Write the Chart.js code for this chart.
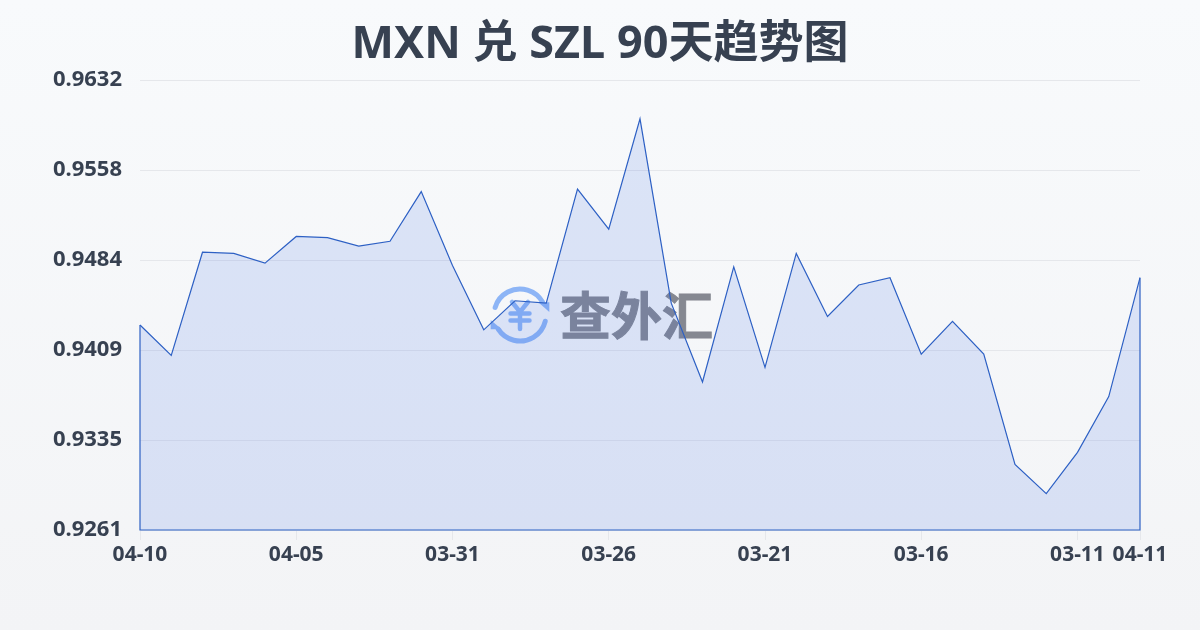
<!DOCTYPE html>
<html>
<head>
<meta charset="utf-8">
<script src="https://cdn.jsdelivr.net/npm/chart.js@4/dist/chart.umd.min.js"></script>
<style>
html, body { margin: 0; padding: 0; width: 1200px; height: 630px; overflow: hidden; }
body { background: linear-gradient(180deg, #f8fafc 0%, #f3f4f6 100%); }
canvas { display: block; }
</style>
</head>
<body>
<canvas id="rateChart" width="1200" height="630"></canvas>
<script>
var titleText = 'MXN 兑 SZL 90天趋势图';
var dates = ['04-10', '04-09', '04-08', '04-07', '04-06', '04-05', '04-04', '04-03', '04-02', '04-01', '03-31',
    '03-30', '03-29', '03-28', '03-27', '03-26', '03-25', '03-24', '03-23', '03-22', '03-21',
    '03-20', '03-19', '03-18', '03-17', '03-16', '03-15', '03-14', '03-13', '03-12', '03-11', '03-10', '04-11'];
var rates = [0.9430, 0.9405, 0.9490, 0.9489, 0.9481, 0.9503, 0.9502, 0.9495, 0.9499, 0.9540, 0.9479,
    0.9426, 0.9450, 0.9448, 0.9542, 0.9509, 0.9600, 0.9448, 0.9383, 0.9478, 0.9395,
    0.9489, 0.9437, 0.9463, 0.9469, 0.9406, 0.9433, 0.9406, 0.9315, 0.9291, 0.9325, 0.9371, 0.9469];
var yTicks = [0.9632, 0.95578, 0.94836, 0.94094, 0.93352, 0.9261];
var xTickIndexes = [0, 5, 10, 15, 20, 25, 30, 32];

var textColor = '#374151';
var lineColor = '#2d60c4';

// closes the area outline down both edges and along the bottom
var areaEdge = {
    id: 'areaEdge',
    afterDatasetsDraw: function (chart) {
        var c = chart.ctx, a = chart.chartArea, pts = chart.getDatasetMeta(0).data;
        c.save();
        c.strokeStyle = lineColor;
        c.lineWidth = 1.2;
        c.beginPath();
        c.moveTo(pts[0].x, pts[0].y);
        c.lineTo(a.left, a.bottom);
        c.lineTo(a.right, a.bottom);
        c.lineTo(pts[pts.length - 1].x, pts[pts.length - 1].y);
        c.stroke();
        c.restore();
    }
};

// logo and site name behind the line
var watermark = {
    id: 'watermark',
    beforeDatasetsDraw: function (chart) {
        var c = chart.ctx, cx = 520, cy = 315, r = 26;
        var logo = '#8db5f6';
        c.save();
        c.strokeStyle = logo;
        c.fillStyle = logo;
        c.lineWidth = 5;
        c.lineCap = 'round';
        c.beginPath();
        c.arc(cx, cy, r, 197 * Math.PI / 180, 330 * Math.PI / 180);
        c.stroke();
        c.beginPath();
        c.moveTo(538.3, 302.3);
        c.lineTo(549.3, 302.3);
        c.lineTo(549.3, 312);
        c.closePath();
        c.fill();
        c.beginPath();
        c.arc(cx, cy, r, 14 * Math.PI / 180, 147 * Math.PI / 180);
        c.stroke();
        c.beginPath();
        c.moveTo(490.7, 329.3);
        c.lineTo(501.7, 329.3);
        c.lineTo(490.7, 320);
        c.closePath();
        c.fill();
        // yen sign
        c.lineWidth = 4.5;
        c.beginPath();
        c.moveTo(512, 302);
        c.lineTo(520, 312);
        c.lineTo(528, 302);
        c.moveTo(520, 312);
        c.lineTo(520, 329);
        c.moveTo(510.5, 313.5);
        c.lineTo(529.5, 313.5);
        c.moveTo(510.5, 320.5);
        c.lineTo(529.5, 320.5);
        c.stroke();
        c.fillStyle = '#858891';
        c.strokeStyle = '#858891';
        c.lineWidth = 1;
        c.font = 'bold 51px "Noto Sans CJK SC"';
        c.textAlign = 'left';
        c.textBaseline = 'middle';
        c.fillText('查外汇', 560, 316);
        c.strokeText('查外汇', 560, 316);
        c.restore();
    }
};

new Chart(document.getElementById('rateChart').getContext('2d'), {
    type: 'line',
    data: {
        labels: dates,
        datasets: [{
            data: rates,
            borderColor: lineColor,
            borderWidth: 1.2,
            backgroundColor: 'rgba(59, 110, 225, 0.15)',
            fill: 'origin',
            pointRadius: 0,
            tension: 0
        }]
    },
    plugins: [watermark, areaEdge],
    options: {
        responsive: false,
        animation: false,
        plugins: {
            legend: { display: false },
            tooltip: { enabled: false },
            title: {
                display: true,
                text: titleText,
                color: '#374151',
                font: { family: '"Noto Sans", "Noto Sans CJK SC"', size: 45, weight: 'bold' },
                padding: { top: 18, bottom: 8 }
            }
        },
        scales: {
            x: {
                type: 'category',
                offset: false,
                afterFit: function (scale) { scale.height = 100; },
                afterTickToLabelConversion: function (scale) {
                    scale.ticks = scale.ticks.filter(function (t) { return xTickIndexes.indexOf(t.value) >= 0; });
                },
                grid: { display: true, drawOnChartArea: false, tickLength: 10, tickColor: '#e5e7eb' },
                border: { display: false },
                ticks: {
                    autoSkip: false,
                    maxRotation: 0,
                    padding: 2,
                    color: textColor,
                    font: { family: '"Noto Sans"', size: 21, weight: 'bold' }
                }
            },
            y: {
                min: 0.9261,
                max: 0.9632,
                afterFit: function (scale) { scale.width = 140; },
                afterBuildTicks: function (scale) {
                    scale.ticks = yTicks.map(function (v) { return { value: v }; });
                },
                grid: { color: '#e5e7eb', drawTicks: false },
                border: { display: false },
                ticks: {
                    padding: 18,
                    color: textColor,
                    font: { family: '"Noto Sans"', size: 22, weight: 'bold' },
                    callback: function (v) { return v.toFixed(4); }
                }
            },
            // empty axis, only keeps the right margin so the title stays centred on the page
            rightGap: {
                position: 'right',
                afterFit: function (scale) { scale.width = 60; },
                grid: { display: false },
                border: { display: false },
                ticks: { display: false }
            }
        }
    }
});
</script>
</body>
</html>
